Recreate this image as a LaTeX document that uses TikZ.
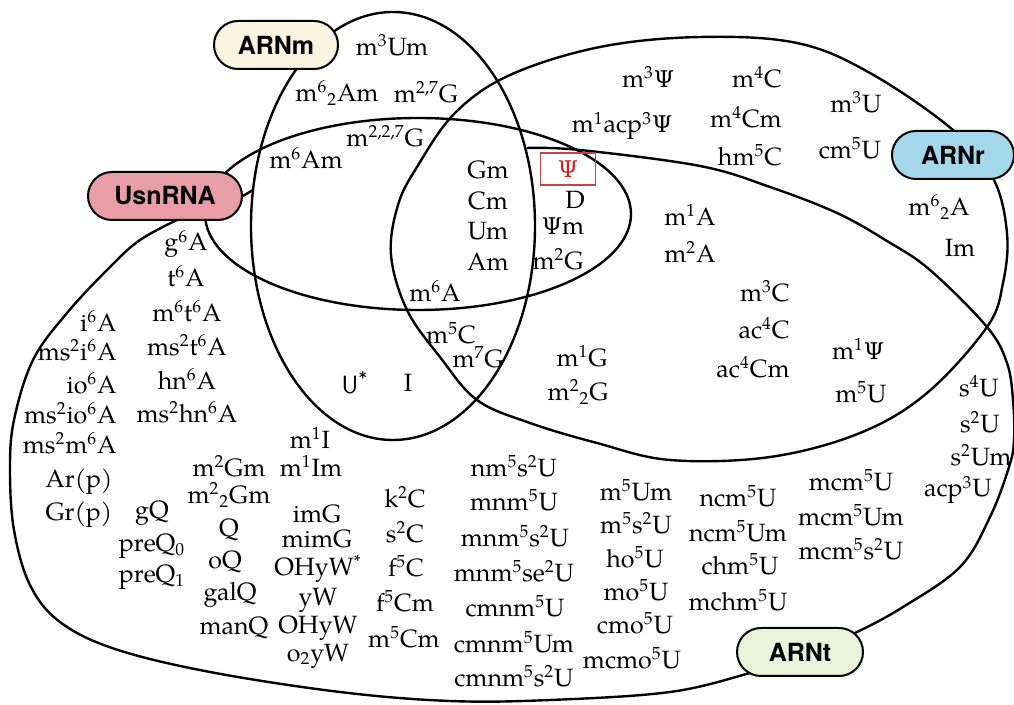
\documentclass[tikz,border=0pt]{standalone}
\usepackage{fontspec}
\setmainfont{TeX Gyre Pagella}
\newfontfamily\labelfont{TeX Gyre Heros}
\newfontfamily\grkfont{DejaVu Serif}[Scale=0.92]
\usepackage{tikz}
\definecolor{mrnafill}{RGB}{250,245,225}
\definecolor{snrnafill}{RGB}{232,158,166}
\definecolor{rrnafill}{RGB}{165,215,235}
\definecolor{trnafill}{RGB}{236,241,218}
\definecolor{psired}{RGB}{205,35,35}
\definecolor{boxred}{RGB}{190,70,70}
\newcommand{\sps}[1]{\textsuperscript{#1}}
\newcommand{\sbs}[1]{\textsubscript{#1}}
\newcommand{\psy}{{\grkfont Ψ}}

\begin{document}
\begin{tikzpicture}[x=0.5pt,y=-0.5pt,
    every node/.style={font=\fontsize{12.5}{14}\selectfont,inner sep=0pt},
    venn/.style={line width=1.2pt},
    rnatag/.style={draw,line width=1pt,rounded corners=12pt,minimum height=24pt,
      font=\labelfont\bfseries\fontsize{12.5}{14}\selectfont}]
    \useasboundingbox (0,0) rectangle (1014,705);
        \draw[venn] (393,226) ellipse (142 and 214);
        \draw[venn] (418,214) ellipse (213 and 96);
        \draw[venn] plot[smooth cycle,tension=0.6] coordinates {(391,255) (398,205) (417,167) (455,113) (510,75) (600,47) (700,37) (797,43) (870,73) (953,130) (993,178) (1007,233) (1003,283) (987,327) (927,393) (860,433) (770,457) (670,460) (597,443) (530,423) (477,400) (440,357) (407,310)};
        \draw[venn] plot[smooth,tension=0.6] coordinates {(527,148) (580,150) (700,166) (770,187) (837,213) (887,241) (930,270) (987,327) (1007,363) (1013,400) (1014,440) (1009,467) (990,517) (960,567) (903,607) (855,633) (800,657) (750,673) (670,692) (550,700) (450,701) (340,692) (210,672) (115,649) (60,622) (30,585) (14,530) (10,470) (14,420) (33,360) (67,313) (110,267) (140,240) (177,220)};
        \node[rnatag,fill=mrnafill,minimum width=62pt] (arnm) at (276,45) {ARNm};
        \node[rnatag,fill=snrnafill,minimum width=77pt] (usnrna) at (165,196) {UsnRNA};
        \node[rnatag,fill=rrnafill,minimum width=61pt] (arnr) at (953,155) {ARNr};
        \node[rnatag,fill=trnafill,minimum width=63pt] (arnt) at (800,652) {ARNt};
        \draw[venn] (usnrna.east) -- (253,190);
        % ARNm
        \node (mthreeUm) at (392,45) {m\sps{3}Um};
        \node (msixtwoAm) at (337,93) {m\sps{6}\sbs{2}Am};
        \node (mtwosevenG) at (426,92) {m\sps{2,7}G};
        \node (msixAm) at (306,158) {m\sps{6}Am};
        \node (mtwotwosevenG) at (385,136) {m\sps{2,2,7}G};
        % centre
        \node (Gm) at (488,170) {Gm};
        \node (Cm) at (488,201) {Cm};
        \node (Um) at (488,231) {Um};
        \node (Am) at (488,262) {Am};
        \node[draw=boxred,line width=0.8pt,minimum width=27.5pt,minimum height=16pt,text=psired] (psi) at (568,169) {\psy};
        \node (D) at (575,200) {D};
        \node (psim) at (563,226) {\psy m};
        \node (mtwoG) at (558,259) {m\sps{2}G};
        \node (msixA) at (435,291) {m\sps{6}A};
        \node (mfiveC) at (451,333) {m\sps{5}C};
        \node (msevenG) at (478,357) {m\sps{7}G};
        \node (ustar) at (355,383) {\sffamily U\sps{*}};
        \node (I) at (408,383) {I};
        % ARNr
        \node (mthreepsi) at (648,77) {m\sps{3}\psy};
        \node (macppsi) at (622,126) {m\sps{1}acp\sps{3}\psy};
        \node (mfourC) at (757,77) {m\sps{4}C};
        \node (mfourCm) at (746,117) {m\sps{4}Cm};
        \node (hmfiveC) at (750,155) {hm\sps{5}C};
        \node (mthreeU) at (856,102) {m\sps{3}U};
        \node (cmfiveU) at (850,148) {cm\sps{5}U};
        \node (msixtwoA) at (939,207) {m\sps{6}\sbs{2}A};
        \node (Im) at (960,248) {Im};
        % ARNr and ARNt
        \node (moneA) at (690,215) {m\sps{1}A};
        \node (mtwoA) at (690,252) {m\sps{2}A};
        \node[anchor=east] (mthreeC) at (790,291) {m\sps{3}C};
        \node[anchor=east] (acfourC) at (790,328) {ac\sps{4}C};
        \node[anchor=east] (acfourCm) at (790,367) {ac\sps{4}Cm};
        \node (monepsi) at (858,349) {m\sps{1}\psy};
        \node (mfiveU) at (861,392) {m\sps{5}U};
        \node (moneG) at (582,356) {m\sps{1}G};
        \node (mtwotwoG) at (578,392) {m\sps{2}\sbs{2}G};
        % ARNt
        \node (sfourU) at (979,386) {s\sps{4}U};
        \node (stwoU) at (980,422) {s\sps{2}U};
        \node (stwoUm) at (981,455) {s\sps{2}Um};
        \node (acpthreeU) at (958,490) {acp\sps{3}U};
        \node (gsixA) at (186,244) {g\sps{6}A};
        \node (tsixA) at (186,276) {t\sps{6}A};
        \node (msixtsixA) at (187,311) {m\sps{6}t\sps{6}A};
        \node (mstwotsixA) at (187,345) {ms\sps{2}t\sps{6}A};
        \node (hnsixA) at (187,379) {hn\sps{6}A};
        \node (mstwohnsixA) at (187,412) {ms\sps{2}hn\sps{6}A};
        \node[anchor=east] (isixA) at (117,321) {i\sps{6}A};
        \node[anchor=east] (mstwoisixA) at (117,350) {ms\sps{2}i\sps{6}A};
        \node[anchor=east] (iosixA) at (117,383) {io\sps{6}A};
        \node[anchor=east] (mstwoiosixA) at (117,413) {ms\sps{2}io\sps{6}A};
        \node[anchor=east] (mstwomsixA) at (117,443) {ms\sps{2}m\sps{6}A};
        \node (Arp) at (79,482) {Ar(p)};
        \node (Grp) at (79,515) {Gr(p)};
        \node (gQ) at (152,513) {gQ};
        \node (preQzero) at (152,546) {preQ\sbs{0}};
        \node (preQone) at (152,577) {preQ\sbs{1}};
        \node (mtwoGm) at (229,466) {m\sps{2}Gm};
        \node (mtwotwoGm) at (229,495) {m\sps{2}\sbs{2}Gm};
        \node (Q) at (229,530) {Q};
        \node (oQ) at (225,562) {oQ};
        \node (galQ) at (230,595) {galQ};
        \node (manQ) at (234,628) {manQ};
        \node (moneI) at (310,438) {m\sps{1}I};
        \node (moneIm) at (311,466) {m\sps{1}Im};
        \node (imG) at (317,514) {imG};
        \node (mimG) at (317,539) {mimG};
        \node (OHyWstar) at (318,569) {OHyW\sps{*}};
        \node (yW) at (318,600) {yW};
        \node (OHyW) at (318,628) {OHyW};
        \node (otwoyW) at (318,656) {o\sbs{2}yW};
        \node (ktwoC) at (405,497) {k\sps{2}C};
        \node (stwoC) at (405,532) {s\sps{2}C};
        \node (ffiveC) at (406,566) {f\sps{5}C};
        \node (ffiveCm) at (405,601) {f\sps{5}Cm};
        \node (mfiveCm) at (404,637) {m\sps{5}Cm};
        \node (nmfivestwoU) at (514,466) {nm\sps{5}s\sps{2}U};
        \node (mnmfiveU) at (514,500) {mnm\sps{5}U};
        \node (mnmfivestwoU) at (515,536) {mnm\sps{5}s\sps{2}U};
        \node (mnmfivesetwoU) at (514,571) {mnm\sps{5}se\sps{2}U};
        \node (cmnmfiveU) at (515,606) {cmnm\sps{5}U};
        \node (cmnmfiveUm) at (514,642) {cmnm\sps{5}Um};
        \node (cmnmfivestwoU) at (514,676) {cmnm\sps{5}s\sps{2}U};
        \node (mfiveUm) at (636,490) {m\sps{5}Um};
        \node (mfivestwoU) at (636,523) {m\sps{5}s\sps{2}U};
        \node (hofiveU) at (635,557) {ho\sps{5}U};
        \node (mofiveU) at (636,590) {mo\sps{5}U};
        \node (cmofiveU) at (635,623) {cmo\sps{5}U};
        \node (mcmofiveU) at (632,658) {mcmo\sps{5}U};
        \node (ncmfiveU) at (738,496) {ncm\sps{5}U};
        \node (ncmfiveUm) at (738,531) {ncm\sps{5}Um};
        \node (chmfiveU) at (740,564) {chm\sps{5}U};
        \node (mchmfiveU) at (738,600) {mchm\sps{5}U};
        \node (mcmfiveU) at (851,480) {mcm\sps{5}U};
        \node (mcmfiveUm) at (851,515) {mcm\sps{5}Um};
        \node (mcmfivestwoU) at (851,549) {mcm\sps{5}s\sps{2}U};
    \end{tikzpicture}
\end{document}
